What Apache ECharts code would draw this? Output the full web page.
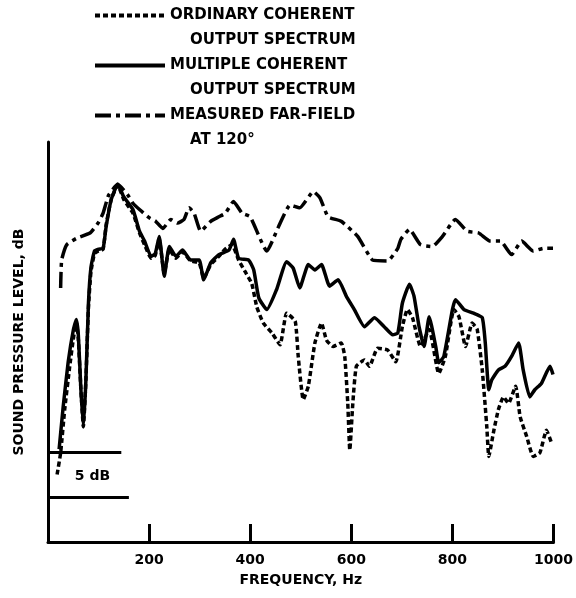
<!DOCTYPE html>
<html><head><meta charset="utf-8">
<script src="https://cdn.jsdelivr.net/npm/echarts@6/dist/echarts.min.js"></script>
<style>html,body{margin:0;padding:0;background:#fff}#c{width:576px;height:598px}</style>
</head><body><div id="c"></div>
<script>
// ---- data (frequency Hz, relative level dB) ----
const seriesNames = ['ORDINARY COHERENT', 'MULTIPLE COHERENT', 'MEASURED FAR-FIELD'];
const seriesSecondLines = ['OUTPUT SPECTRUM', 'OUTPUT SPECTRUM', 'AT 120\u00B0'];
const xTickValues = [200, 400, 600, 800, 1000];
const xAxisTitle = 'FREQUENCY, Hz';
const yAxisTitle = 'SOUND PRESSURE LEVEL, dB';
const scaleBarLabel = '5 dB';
const scaleBarTop = [[0, 10], [145, 10]];
const scaleBarBottom = [[0, 5], [160, 5]];
const scaleBarLabelAt = [88, 7.3];

const ordinary = [[18,7.5],[25,9.9],[33,14.7],[43,19.5],[50,22.5],[56,24.4],[60,22.5],[65,17],[70,12.8],[75,18],[80,26],[85,30],[92,32],[100,32.3],[109,32.5],[115,35.2],[125,38],[138,39.6],[150,38],[168,36.5],[181,34.3],[191,33],[204,31.5],[212,31.8],[220,33.6],[230,29.8],[240,32.5],[253,31.5],[266,32.2],[282,31.2],[299,31],[308,29.3],[322,30.8],[338,31.7],[350,32.5],[364,33],[377,31.3],[390,30],[403,28.7],[413,26.1],[426,24.3],[443,23.2],[459,21.9],[472,25.4],[489,24.5],[495,20.6],[505,15.8],[515,17.3],[528,22.1],[541,24.3],[551,22.4],[564,21.7],[580,22.1],[587,20.6],[593,15.4],[597,10.2],[603,15.4],[610,19.5],[626,20.2],[636,19.5],[652,21.5],[672,21.3],[688,20],[701,23.9],[711,25.8],[721,24.9],[737,21.7],[754,23.6],[773,18.7],[786,20.6],[803,25.8],[813,25],[826,21.7],[839,24.3],[849,23.6],[859,19.1],[868,12.8],[872,9.5],[882,12.4],[891,14.7],[901,16.1],[911,15.4],[925,17.3],[934,13.9],[947,11.7],[960,9.5],[973,9.9],[986,12.4],[996,11]];

const multiple = [[22,10.3],[30,15],[40,20],[50,23.5],[56,24.7],[60,23],[65,17],[70,12.8],[75,18],[80,26.5],[85,30.5],[92,32.3],[100,32.5],[109,32.6],[115,35],[125,38],[138,39.7],[150,38.3],[168,36.9],[181,34.5],[191,33.4],[204,31.7],[212,32],[220,33.9],[230,29.5],[240,32.8],[253,31.7],[266,32.4],[282,31.3],[299,31.3],[308,29.1],[322,31],[338,31.9],[358,32.4],[367,33.6],[377,31.5],[397,31.3],[407,30.2],[417,27.1],[433,25.8],[452,28],[472,31.1],[485,30.4],[498,28.2],[515,30.8],[528,30.2],[541,30.8],[557,28.4],[574,29.1],[590,27.3],[606,25.8],[626,23.9],[646,24.9],[665,23.9],[682,23],[692,23.2],[701,26.5],[715,28.6],[724,27.3],[734,23.9],[744,21.7],[754,25],[767,21.7],[773,19.9],[783,20.6],[800,25.8],[806,26.9],[823,25.8],[842,25.4],[859,24.9],[865,22.1],[872,16.9],[878,18],[891,19.1],[904,19.5],[917,20.6],[931,22.1],[940,19.1],[953,16.1],[963,16.9],[976,17.6],[993,19.5],[999,18.6]];

const farField = [[25,28.2],[27,31.3],[37,33],[56,33.7],[83,34.3],[99,35.4],[109,36.5],[120,38.5],[138,39.7],[158,38.5],[168,37.6],[181,36.9],[200,36],[213,35.6],[227,34.8],[243,35.8],[256,35.4],[269,35.8],[279,37.1],[289,36.5],[302,34.5],[322,35.6],[338,36.1],[351,36.5],[367,37.8],[384,36.5],[400,36.1],[433,32.3],[456,35],[479,37.4],[498,37.1],[525,38.9],[538,38.2],[554,36.1],[580,35.6],[613,33.9],[642,31.3],[672,31.2],[692,32.6],[698,33.6],[715,34.7],[737,33],[760,32.8],[780,33.9],[806,35.8],[829,34.5],[852,34.3],[875,33.4],[895,33.4],[917,31.9],[937,33.4],[960,32.3],[980,32.6],[999,32.6]];

// ---- chart ----
const FONT = 'DejaVu Sans';
const chart = echarts.init(document.getElementById('c'), null, {renderer: 'canvas'});
const baseLine = (name, data, type, width, z) => ({
  name, type: 'line', data, symbol: 'none', smooth: 0.15, z,
  lineStyle: {color: '#000', width, type, cap: 'butt'},
  itemStyle: {color: '#000'},
  emphasis: {disabled: true}
});
const solid = baseLine(seriesNames[1], multiple, 'solid', 3.5, 2);
solid.markLine = {
  silent: true, symbol: 'none', animation: false,
  lineStyle: {color: '#000', width: 3, type: 'solid'},
  label: {show: false},
  data: [
    [{coord: scaleBarTop[0]}, {coord: scaleBarTop[1]}],
    [{coord: scaleBarBottom[0]}, {coord: scaleBarBottom[1]}]
  ]
};
solid.markPoint = {
  silent: true, symbol: 'circle', symbolSize: 1, animation: false,
  itemStyle: {color: 'rgba(0,0,0,0)'},
  label: {show: true, position: 'inside', formatter: scaleBarLabel, color: '#000',
          fontFamily: FONT, fontWeight: 'bold', fontSize: 14},
  data: [{coord: scaleBarLabelAt}]
};

chart.setOption({
  animation: false,
  backgroundColor: '#fff',
  grid: {left: 48, right: 19, top: 142, bottom: 56},
  legend: {
    orient: 'vertical', left: 93, top: -22, padding: 0,
    itemWidth: 70, itemHeight: 14, itemGap: -25,
    data: seriesNames,
    selectedMode: false,
    itemStyle: {opacity: 0},
    lineStyle: {width: 4},
    formatter: name => '{a|' + name + '}\n{b|' + seriesSecondLines[seriesNames.indexOf(name)] + '}',
    textStyle: {
      color: '#000', fontFamily: FONT, fontWeight: 'bold', fontSize: 15,
      padding: [25, 0, 0, 0], backgroundColor: 'rgba(255,255,255,0)',
      rich: {
        a: {fontFamily: FONT, fontWeight: 'bold', fontSize: 15, lineHeight: 25, color: '#000'},
        b: {fontFamily: FONT, fontWeight: 'bold', fontSize: 15, lineHeight: 25, color: '#000', padding: [0, 0, 0, 20]}
      }
    }
  },
  xAxis: {
    type: 'value', min: 0, max: 1000, interval: 200,
    name: xAxisTitle, nameLocation: 'middle', nameGap: 31,
    nameTextStyle: {color: '#000', fontFamily: FONT, fontWeight: 'bold', fontSize: 14},
    axisLine: {show: true, lineStyle: {color: '#000', width: 3}},
    axisTick: {show: true, inside: true, length: 18, lineStyle: {color: '#000', width: 3}},
    axisLabel: {color: '#000', fontFamily: FONT, fontWeight: 'bold', fontSize: 14, margin: 11,
      formatter: v => xTickValues.indexOf(v) >= 0 ? String(v) : ''},
    splitLine: {show: false}
  },
  yAxis: {
    type: 'value', min: 0, max: 44.4,
    name: yAxisTitle, nameLocation: 'middle', nameGap: 22,
    nameTextStyle: {color: '#000', fontFamily: FONT, fontWeight: 'bold', fontSize: 14},
    axisLine: {show: true, lineStyle: {color: '#000', width: 3}},
    axisTick: {show: false},
    axisLabel: {show: false},
    splitLine: {show: false}
  },
  series: [
    baseLine(seriesNames[0], ordinary, [5, 3], 3.5, 3),
    solid,
    baseLine(seriesNames[2], farField, [16, 5, 4, 5], 3.5, 2)
  ]
});
</script></body></html>
